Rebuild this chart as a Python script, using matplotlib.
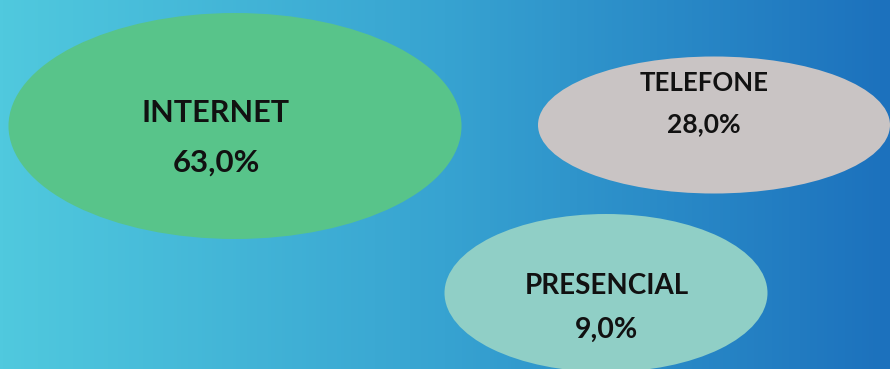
import numpy as np
import matplotlib.pyplot as plt
from matplotlib.patches import Ellipse
from matplotlib.colors import LinearSegmentedColormap

# Data
categories = ['INTERNET', 'TELEFONE', 'PRESENCIAL']
shares = [63.0, 28.0, 9.0]

# Layout / style per bubble (pixel space, y down)
centers = [(235, 126), (714, 125), (606, 293)]
sizes = [(453, 226), (352, 137), (323, 158)]
colors = ['#58c48a', '#c9c4c4', '#90cfc6']
text_x = [216, 704, 607]
name_y = [113, 83, 286]
value_y = [163, 124, 330]
name_size = [22, 18.5, 20]
value_size = [22.5, 19, 20.5]

W, H = 890, 369
fig = plt.figure(figsize=(W / 100, H / 100), dpi=100)
ax = fig.add_axes([0, 0, 1, 1])
ax.set_xlim(0, W)
ax.set_ylim(H, 0)
ax.axis('off')

# Horizontal gradient background
cmap = LinearSegmentedColormap.from_list('bg', ['#50c9de', '#37a3d1', '#1c71bd'])
grad = np.linspace(0, 1, 256).reshape(1, -1)
ax.imshow(grad, cmap=cmap, extent=[0, W, H, 0], aspect='auto', zorder=0)

for i, (name, val) in enumerate(zip(categories, shares)):
    c, s = centers[i], sizes[i]
    ax.add_patch(Ellipse(c, s[0], s[1], facecolor=colors[i], edgecolor='none', zorder=1))
    ax.text(text_x[i], name_y[i], name, ha='center', va='center', fontsize=name_size[i],
            fontweight='bold', family='Lato', color='#111111', zorder=2)
    ax.text(text_x[i], value_y[i], f'{val:.1f}%'.replace('.', ','), ha='center',
            va='center', fontsize=value_size[i], fontweight='bold', family='Lato',
            color='#111111', zorder=2)

fig.savefig('out.png', dpi=100)
